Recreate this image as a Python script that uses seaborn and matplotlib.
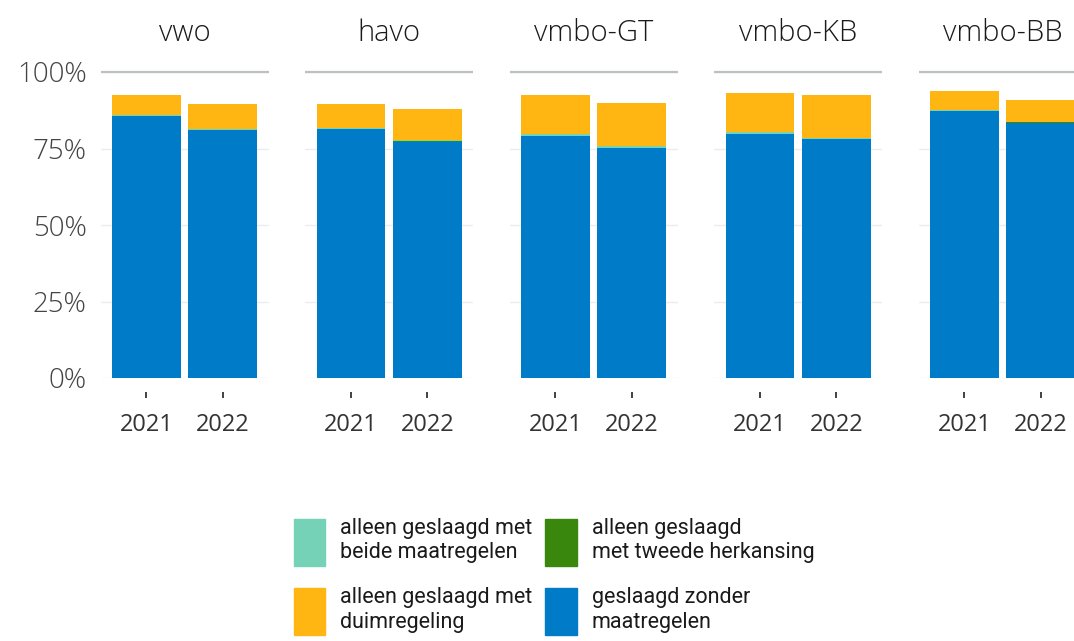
import matplotlib
matplotlib.use("Agg")
import matplotlib.pyplot as plt
import matplotlib.ticker as ticker
import matplotlib.patches as mpatches
import seaborn as sns
import pandas as pd

# Data (percentages)
levels = ["vwo", "havo", "vmbo-GT", "vmbo-KB", "vmbo-BB"]
years = ["2021", "2022"]
zonder_2021 = [85.6, 81.3, 79.1, 79.8, 87.3]
zonder_2022 = [81.0, 77.2, 75.2, 78.0, 83.4]
herkansing_2021 = [0.1, 0.1, 0.1, 0.1, 0.1]
herkansing_2022 = [0.1, 0.1, 0.1, 0.1, 0.1]
beide_2021 = [0.3, 0.3, 0.4, 0.4, 0.2]
beide_2022 = [0.3, 0.4, 0.5, 0.4, 0.3]
duim_2021 = [6.5, 7.7, 12.9, 12.7, 6.2]
duim_2022 = [8.0, 10.1, 14.0, 13.9, 7.0]

labels = {
    "beide": "alleen geslaagd met\nbeide maatregelen",
    "herkansing": "alleen geslaagd\nmet tweede herkansing",
    "duim": "alleen geslaagd met\nduimregeling",
    "zonder": "geslaagd zonder\nmaatregelen",
}
colors = {"beide": "#76D2B6", "herkansing": "#39870C", "duim": "#FFB612", "zonder": "#007BC7"}
stack_order = ["zonder", "herkansing", "beide", "duim"]  # bottom -> top

# Data Transformation
rows = []
series = {
    "zonder": (zonder_2021, zonder_2022),
    "herkansing": (herkansing_2021, herkansing_2022),
    "beide": (beide_2021, beide_2022),
    "duim": (duim_2021, duim_2022),
}
for cat, (v21, v22) in series.items():
    for i, lvl in enumerate(levels):
        rows.append({"level": lvl, "year": "2021", "cat": cat, "value": v21[i] / 100})
        rows.append({"level": lvl, "year": "2022", "cat": cat, "value": v22[i] / 100})
df = pd.DataFrame(rows)
df["cat"] = pd.Categorical(df["cat"], categories=stack_order, ordered=True)
df = df.sort_values(["level", "year", "cat"])
df["cum"] = df.groupby(["level", "year"], observed=True)["value"].cumsum()

# Plot properties
sns.set_style("white")
plt.rcParams["font.family"] = ["Open Sans", "DejaVu Sans"]

W, H = 1074, 641
fig = plt.figure(figsize=(W / 100, H / 100), dpi=100)

panel_w = 168
step = 204.5
left0 = 100.6
bottom_px = 378
ymax = 1.03
px_per_unit = 306
top_px = bottom_px - ymax * px_per_unit

for i, lvl in enumerate(levels):
    ax = fig.add_axes([(left0 + i * step) / W, (H - bottom_px) / H,
                       panel_w / W, (bottom_px - top_px) / H])
    sub = df[df["level"] == lvl]
    # draw stacked bars from top layer down
    for cat in reversed(stack_order):
        d = sub[sub["cat"] == cat]
        sns.barplot(data=d, x="year", y="cum", order=years, color=colors[cat],
                    width=0.9, saturation=1, linewidth=0, ax=ax, errorbar=None, zorder=3)
    ax.set_xlim(-0.6, 1.6)
    ax.set_ylim(0, ymax)
    ax.set_xlabel("")
    ax.set_ylabel("")
    ax.set_yticks([0, 0.25, 0.5, 0.75, 1.0])
    ax.yaxis.set_major_formatter(ticker.FuncFormatter(lambda v, _: f"{v * 100:.0f}%"))
    ax.grid(axis="y", color="#ececec", linewidth=1.0, zorder=0)
    ax.axhline(1.0, color="#bcc0c0", linewidth=1.6, zorder=1)
    for s in ["top", "right", "left"]:
        ax.spines[s].set_visible(False)
    ax.spines["bottom"].set_position(("outward", 10))
    ax.spines["bottom"].set_visible(False)
    ax.tick_params(axis="x", length=4, width=1.3, color="#333333", pad=11,
                   labelsize=17, labelcolor="#333333", direction="out", bottom=True)
    ax.tick_params(axis="y", length=0, pad=10, labelsize=20, labelcolor="#444444")
    for t in ax.get_yticklabels():
        t.set_fontweight("light")
    if i > 0:
        ax.set_yticklabels([])
    ax.set_title(lvl, fontsize=21, color="#1a1a1a", pad=16, fontweight="light")

# Legend
handles = [mpatches.Patch(color=colors[k], label=labels[k])
           for k in ["beide", "duim", "herkansing", "zonder"]]
fig.legend(handles=handles, ncol=2, loc="upper left",
           bbox_to_anchor=(294 / W, 1 - 518 / H), frameon=False,
           prop={"family": ["Roboto", "DejaVu Sans"], "size": 15.5}, labelcolor="#1a1a1a",
           handlelength=1.45, handleheight=3.0, handletextpad=0.7,
           columnspacing=0.6, labelspacing=1.0, borderpad=0, borderaxespad=0)

fig.savefig("out.png", dpi=100)
